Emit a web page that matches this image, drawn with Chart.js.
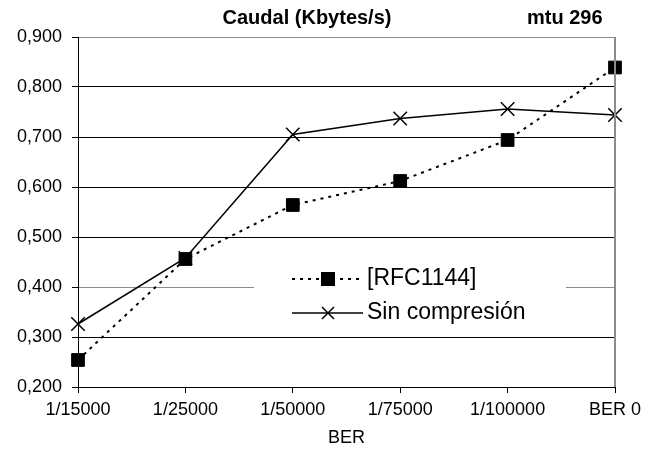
<!DOCTYPE html>
<html>
<head>
<meta charset="utf-8">
<script src="https://cdn.jsdelivr.net/npm/chart.js@4/dist/chart.umd.min.js"></script>
<style>
html,body{margin:0;padding:0;background:#fff;}
#wrap{width:657px;height:457px;position:relative;}
</style>
</head>
<body>
<div id="wrap"><canvas id="c" width="657" height="457"></canvas></div>
<script>
const categories = ['1/15000', '1/25000', '1/50000', '1/75000', '1/100000', 'BER 0'];
const rfc1144 = [0.254, 0.456, 0.564, 0.612, 0.694, 0.839];
const sinCompresion = [0.326, 0.458, 0.705, 0.737, 0.756, 0.744];
const seriesNames = ['[RFC1144]', 'Sin compresión'];
const titleText = 'Caudal (Kbytes/s)';
const subTitleText = 'mtu 296';
const xAxisTitle = 'BER';
const yMin = 0.2, yMax = 0.9, yStep = 0.1;
const greyGridValues = [0.9, 0.4];

const FONT = "'Liberation Sans', Arial, sans-serif";

const overlay = {
  id: 'overlay',
  afterDraw(chart) {
    const ctx = chart.ctx;
    const a = chart.chartArea;
    ctx.save();
    // right border
    ctx.strokeStyle = '#8c8c8c';
    ctx.lineWidth = 2;
    ctx.beginPath();
    ctx.moveTo(Math.round(a.right), a.top);
    ctx.lineTo(Math.round(a.right), a.bottom);
    ctx.stroke();
    // titles
    ctx.fillStyle = '#000';
    ctx.font = 'bold 20px ' + FONT;
    ctx.textBaseline = 'middle';
    ctx.textAlign = 'center';
    ctx.fillText(titleText, 307, 18);
    ctx.textAlign = 'left';
    ctx.fillText(subTitleText, 527, 18);
    ctx.font = '18px ' + FONT;
    ctx.textAlign = 'center';
    ctx.fillText(xAxisTitle, (a.left + a.right) / 2, 438);
    // legend
    ctx.fillStyle = '#fff';
    ctx.fillRect(254, 260, 312, 70);
    const rows = [279, 313];
    chart.data.datasets.forEach((ds, i) => {
      const y = rows[i];
      ctx.strokeStyle = '#000';
      ctx.lineWidth = ds.borderWidth;
      ctx.setLineDash(ds.borderDash || []);
      ctx.beginPath();
      ctx.moveTo(292, y);
      ctx.lineTo(363, y);
      ctx.stroke();
      ctx.setLineDash([]);
      ctx.fillStyle = '#000';
      ctx.strokeStyle = '#000';
      Chart.helpers.drawPoint(ctx, {
        pointStyle: ds.pointStyle,
        radius: 8.5,
        borderWidth: 1.2,
        rotation: 0
      }, 328, y);
      ctx.font = '23px ' + FONT;
      ctx.textAlign = 'left';
      ctx.textBaseline = 'middle';
      ctx.fillStyle = '#000';
      ctx.fillText(ds.label, 367, y);
    });
    ctx.restore();
  }
};

new Chart(document.getElementById('c'), {
  type: 'line',
  data: {
    labels: categories,
    datasets: [
      {
        label: seriesNames[0],
        data: rfc1144,
        borderColor: '#000',
        backgroundColor: '#000',
        borderWidth: 2,
        borderDash: [3, 5],
        pointStyle: 'rect',
        pointRadius: 9,
        pointBorderWidth: 1,
        pointBackgroundColor: '#000',
        pointBorderColor: '#000',
        tension: 0,
        clip: false
      },
      {
        label: seriesNames[1],
        data: sinCompresion,
        borderColor: '#000',
        backgroundColor: '#000',
        borderWidth: 1.5,
        pointStyle: 'crossRot',
        pointRadius: 9.5,
        pointBorderWidth: 1.5,
        pointBorderColor: '#000',
        tension: 0,
        clip: false
      }
    ]
  },
  options: {
    responsive: false,
    animation: false,
    devicePixelRatio: 1,
    layout: { padding: { left: 0, right: 42, top: 37, bottom: 0 } },
    plugins: {
      legend: { display: false },
      title: { display: false },
      tooltip: { enabled: false }
    },
    scales: {
      x: {
        offset: false,
        afterFit(s) { s.height = 70; },
        grid: {
          display: true,
          drawOnChartArea: false,
          drawTicks: true,
          tickLength: 6,
          tickColor: '#000',
          color: '#000'
        },
        border: { display: true, color: '#000', width: 1 },
        ticks: {
          color: '#000',
          font: { family: FONT, size: 18 },
          padding: 6,
          maxRotation: 0,
          autoSkip: false
        }
      },
      y: {
        min: yMin,
        max: yMax,
        afterFit(s) { s.width = 78; },
        grid: {
          color: (c) => (c.tick && greyGridValues.some(v => Math.abs(c.tick.value - v) < 1e-9)) ? '#8c8c8c' : '#000',
          lineWidth: 1,
          tickLength: 6,
          tickColor: '#000'
        },
        border: { display: true, color: '#000', width: 1 },
        ticks: {
          stepSize: yStep,
          color: '#000',
          font: { family: FONT, size: 18 },
          padding: 10,
          callback: (v) => v.toFixed(3).replace('.', ',')
        }
      }
    }
  },
  plugins: [overlay]
});
</script>
</body>
</html>
